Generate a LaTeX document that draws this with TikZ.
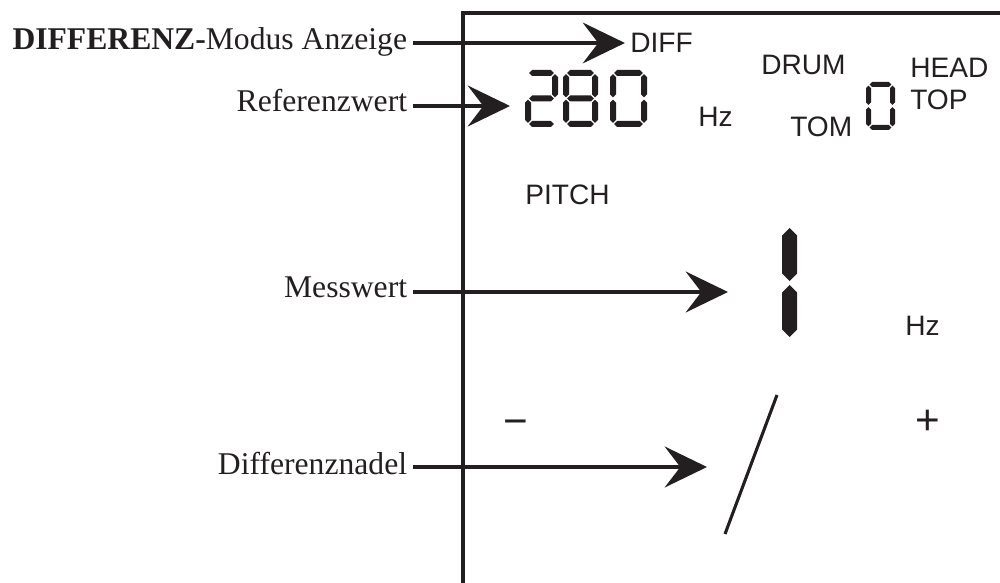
\documentclass[tikz,border=0pt]{standalone}
\usepackage{fontspec}
\setmainfont{Liberation Serif}
\newfontfamily\lcdfont{Liberation Sans}
\usepackage{tikz}
\usepackage{xcolor}
\usetikzlibrary{arrows.meta,positioning,calc}
\definecolor{ink}{HTML}{231F20}

% LCD segments: hexagons between two end points
\newcommand{\hseg}[4]{\fill[ink] ({#1},{#3}) -- ({#1+#4/2},{#3-#4/2}) -- ({#2-#4/2},{#3-#4/2}) -- ({#2},{#3}) -- ({#2-#4/2},{#3+#4/2}) -- ({#1+#4/2},{#3+#4/2}) -- cycle;}
\newcommand{\vseg}[4]{\fill[ink] ({#1},{#2}) -- ({#1+#4/2},{#2+#4/2}) -- ({#1+#4/2},{#3-#4/2}) -- ({#1},{#3}) -- ({#1-#4/2},{#3-#4/2}) -- ({#1-#4/2},{#2+#4/2}) -- cycle;}
\newcommand\lcdsega{\hseg{\sgxa+\sgg}{\sgxb-\sgg}{\sgya}{\sgt}}
\newcommand\lcdsegg{\hseg{\sgxa+\sgg}{\sgxb-\sgg}{\sgym}{\sgt}}
\newcommand\lcdsegd{\hseg{\sgxa+\sgg}{\sgxb-\sgg}{\sgyb}{\sgt}}
\newcommand\lcdsegf{\vseg{\sgxa}{\sgya+\sgg}{\sgym-\sgg}{\sgt}}
\newcommand\lcdsegb{\vseg{\sgxb}{\sgya+\sgg}{\sgym-\sgg}{\sgt}}
\newcommand\lcdsege{\vseg{\sgxa}{\sgym+\sgg}{\sgyb-\sgg}{\sgt}}
\newcommand\lcdsegc{\vseg{\sgxb}{\sgym+\sgg}{\sgyb-\sgg}{\sgt}}
\newcommand{\lcddigit}[6]{%
  \pgfmathsetmacro\sgt{#5}%
  \pgfmathsetmacro\sgxa{#1+\sgt/2}\pgfmathsetmacro\sgxb{#2-\sgt/2}%
  \pgfmathsetmacro\sgya{#3+\sgt/2}\pgfmathsetmacro\sgyb{#4-\sgt/2}%
  \pgfmathsetmacro\sgym{(#3+#4)/2}%
  \def\sgg{1.2}%
  \foreach \segname in {#6} {\csname lcdseg\segname\endcsname}}

\begin{document}
\begin{tikzpicture}[
  x=0.025cm, y=-0.025cm,
  lbl/.style={anchor=base east, inner xsep=4pt, inner ysep=0pt, text=ink, font=\fontsize{22.5}{27}\selectfont},
  lcd/.style={inner sep=0pt, text=ink, font=\lcdfont\fontsize{20}{24}\selectfont},
  sign/.style={inner sep=0pt, text=ink, font=\lcdfont\fontsize{30}{36}\selectfont},
  frame/.style={draw=ink, line width=2.9pt},
  pfeil/.style={draw=ink, line width=2.9pt, -{Stealth[length=30pt, width=29pt, inset=11pt]}},
  needle/.style={draw=ink, line width=2.2pt}
]
\useasboundingbox (0,0) rectangle (1000,583);

\draw[frame] (463,583) -- (463,13) -- (1000,13);

\node[lbl] (lbldiff) at (413,50) {\textbf{DIFFERENZ-}Modus Anzeige};
\node[lbl] (lblref) at (413,112) {Referenzwert};
\node[lbl] (lblmess) at (413,298) {Messwert};
\node[lbl] (lblnadel) at (413,474) {Differenznadel};

\node[lcd, anchor=west] (diff) at (630,43) {DIFF};
\node[lcd, anchor=base west] (drum) at (761,75) {DRUM};
\node[lcd, anchor=base west] (head) at (910,78) {HEAD};
\node[lcd, anchor=base west] (top) at (910,110) {TOP};
\node[lcd, anchor=base west] (tom) at (790,137) {TOM};
\node[lcd, anchor=base west] (hzref) at (698,127) {Hz};
\node[lcd, anchor=base west] (pitch) at (525,205) {PITCH};
\node[lcd, anchor=base west] (hzmess) at (905,336) {Hz};
\node[sign] (minus) at (516,428) {−};
\node[sign] (plus) at (928,422) {+};

\lcddigit{525}{558}{70}{127}{6}{a,b,g,e,d}
\lcddigit{563}{598}{70}{127}{6}{a,b,c,d,e,f,g}
\lcddigit{610}{647}{70}{127}{6}{a,b,c,d,e,f}
\lcddigit{866}{895}{82}{130}{5}{a,b,c,d,e,f}
\vseg{789.5}{228}{281}{15}
\vseg{789.5}{285}{337}{15}

\coordinate (nadeloben) at (777,395);
\coordinate (nadelunten) at (725,534);
\draw[needle] (nadeloben) -- (nadelunten);

\coordinate (reftip) at (510,106);
\coordinate (messtip) at (728,292);
\coordinate (nadeltip) at (707,467);
\draw[pfeil] (lbldiff.base east |- diff.west) -- ([xshift=-3.6pt]diff.west);
\draw[pfeil] (lblref.base east |- reftip) -- (reftip);
\draw[pfeil] (lblmess.base east |- messtip) -- (messtip);
\draw[pfeil] (lblnadel.base east |- nadeltip) -- (nadeltip);
\end{tikzpicture}
\end{document}
